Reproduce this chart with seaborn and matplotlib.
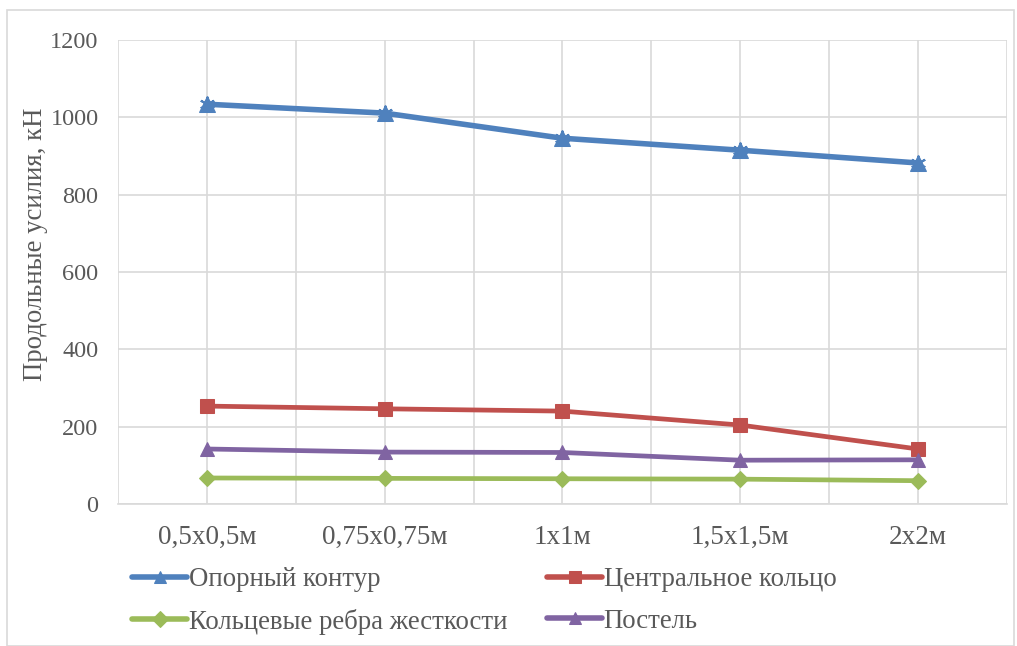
import matplotlib
matplotlib.use("Agg")
import matplotlib.pyplot as plt
import matplotlib.patches as mpatches
from matplotlib.ticker import MultipleLocator
import numpy as np
import pandas as pd
import seaborn as sns

# Grid cell sizes and longitudinal forces (kN) in shell elements
categories = ["0,5х0,5м", "0,75х0,75м", "1х1м", "1,5х1,5м", "2х2м"]
support_contour = [1034, 1011, 946, 915, 882]
central_ring = [253, 246, 240, 204, 142]
ring_ribs = [67, 66, 65, 64, 60]
bed = [142, 134, 133, 113, 114]

series_names = ["Опорный контур", "Центральное кольцо",
                "Кольцевые ребра жесткости", "Постель"]
series_values = [support_contour, central_ring, ring_ribs, bed]

colors = ["#4F81BD", "#C0504D", "#9BBB59", "#8064A2"]
markers = ["^", "s", "D", "^"]
marker_sizes = [11, 10, 8, 10]
line_widths = [4.0, 3.4, 3.4, 3.4]

df = pd.DataFrame({
    "cat": categories * len(series_names),
    "val": [v for s in series_values for v in s],
    "series": [n for n in series_names for _ in categories],
})

sns.set_theme(style="white")
plt.rcParams["font.family"] = ["Liberation Serif", "DejaVu Serif"]
text_color = "#595959"

fig = plt.figure(figsize=(10.17, 6.46), dpi=100)
ax = fig.add_axes([0.116, 0.220, 0.874, 0.718])

for name, col, mk, ms, lw in zip(series_names, colors, markers, marker_sizes, line_widths):
    sub = df[df["series"] == name]
    sns.lineplot(data=sub, x="cat", y="val", ax=ax, color=col, linewidth=lw,
                 marker=mk, markersize=ms, markeredgecolor=col, label=name,
                 sort=False, zorder=3)

# small asterisk on top of the blue triangle markers
ax.plot(range(len(categories)), support_contour, linestyle="none", marker=(6, 2, 0),
        markersize=11, markeredgecolor=colors[0], markeredgewidth=1.5, zorder=4)

ax.set_xlim(-0.5, len(categories) - 0.5)
ax.set_ylim(0, 1200)
ax.yaxis.set_major_locator(MultipleLocator(200))
ax.set_xticks(range(len(categories)))
ax.set_xticklabels(categories)
ax.set_xticks(np.arange(-0.5, len(categories), 1.0), minor=True)
ax.grid(True, which="major", axis="both", color="#D9D9D9", linewidth=1.2, zorder=0)
ax.grid(True, which="minor", axis="x", color="#D9D9D9", linewidth=1.2, zorder=0)
ax.set_axisbelow(True)
for side in ["top", "right", "left"]:
    ax.spines[side].set_visible(False)
ax.spines["bottom"].set_color("#D9D9D9")
ax.spines["bottom"].set_linewidth(1.2)

ax.tick_params(axis="both", which="both", length=0, colors=text_color)
ax.tick_params(axis="x", labelsize=19.5, pad=15)
ax.tick_params(axis="y", labelsize=17.5, pad=14)
ax.set_xlabel("")
ax.set_ylabel("Продольные усилия, кН", fontsize=19.3, color=text_color)
ax.yaxis.set_label_coords(-0.079, 0.56)

handles, labels = ax.get_legend_handles_labels()
order = [0, 2, 1, 3]  # fill legend row by row
handles = [handles[i] for i in order]
labels = [labels[i] for i in order]
leg = ax.legend(handles, labels, ncol=2, loc="upper left",
                bbox_to_anchor=(-0.011, -0.084), frameon=False, fontsize=19.3,
                handlelength=2.05, handletextpad=0.05, columnspacing=1.5,
                labelspacing=0.62, labelcolor=text_color)
for h in leg.legend_handles:
    h.set_markersize(8)
    h.set_linewidth(4.0)

# outer chart frame
fig.patches.append(mpatches.Rectangle((0.007, 0.0), 0.99, 0.984, transform=fig.transFigure,
                                      fill=False, edgecolor="#D9D9D9", linewidth=1.2))

fig.savefig("out.png", dpi=100)
